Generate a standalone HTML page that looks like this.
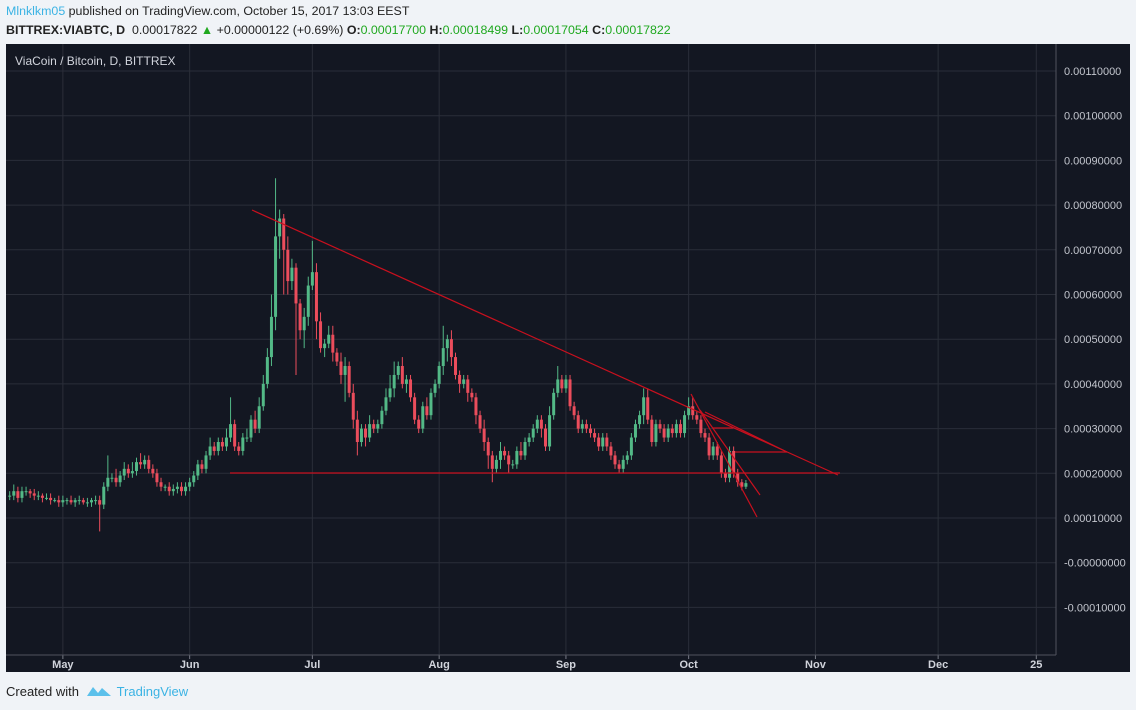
<!DOCTYPE html>
<html><head><meta charset="utf-8"><style>
body{margin:0;width:1136px;height:710px;background:#f0f3f7;font-family:"Liberation Sans",sans-serif;overflow:hidden;position:relative}
.hdr{position:absolute;left:6px;font-size:12.4px;color:#222;white-space:nowrap}
</style></head><body>
<div class="hdr" style="top:4px"><span style="color:#3bb3e4">Mlnklkm05</span> published on TradingView.com, October 15, 2017 13:03 EEST</div>
<div class="hdr" style="top:23px"><b>BITTREX:VIABTC, D</b>&nbsp; 0.00017822 <span style="color:#1fa81f">▲</span> +0.00000122 (+0.69%) <b>O:</b><span style="color:#1fa81f">0.00017700</span> <b>H:</b><span style="color:#1fa81f">0.00018499</span> <b>L:</b><span style="color:#1fa81f">0.00017054</span> <b>C:</b><span style="color:#1fa81f">0.00017822</span></div>
<svg id="chart" width="1136" height="710" style="position:absolute;left:0;top:0" xmlns="http://www.w3.org/2000/svg"></svg>
<div style="position:absolute;left:6px;top:684px;font-size:13px;color:#222">Created with <span style="color:#3bb3e4;margin-left:34px">TradingView</span></div>
<svg style="position:absolute;left:86px;top:684px" width="26" height="14"><path d="M1 12 L7 3 L12 9 L16 4 L25 12 Z" fill="#5bc0eb"/></svg>
<script>
const closes=[15,16,14.5,16,16,15.5,15,15,14.5,14.5,14,14,13.5,
14,14,13.5,14,14,13.5,13.5,14,14,13,17,19,19,18,19.5,21,20,20.5,22.5,22,23,21,20,18,17,17,16,16.5,17,16,17,
18,19.5,22,21,24,26,25,27,26,28,31,26,25,28,28,32,30,35,40,46,55,73,77,70,63,66,58,52,55,62,
65,54,48,49,51,47,45,42,44,38,32,27,30,28,31,30,31,34,37,39,42,44,40,41,37,32,30,35,33,38,40,
44,48,50,46,42,40,41,38,37,33,30,27,24,21,23,25,24,22,22,25,24,27,28,30,32,30,26,33,38,41,39,
41,35,33,30,31,30,29,28,26,28,26,24,22,21,23,24,28,31,33,37,32,27,31,30,28,30,29,31,29,33,
35,33,32,29,28,24,26,24,20,19,25,20,18,17,17.8];
const wickUp=[1,1.5,1,1,1,.5,1,1,.5,1,1,.5,1,
1,.5,1,.5,1,.5,1,.5,1,1,1,5,1,2,1,1.5,1,2,1,2,1,1,1,1,1,.5,1,1,1,1,1,
1,1,1,1,1,2,1,1,1,2,6,1,1,1,2,1,2,2,2,2,5,13,2,1,3,2,1,1,2,2,
7,2,2,1,2,2,1,2,2,1,2,2,1,1,2,1,1,1,2,3,3,1,2,1,1,1,1,1,2,1,1,
1,5,1,2,1,1,1,1,1,1,1,2,1,1,1,2,1,1,1,1,2,1,1,1,1,1,1,2,1,3,1,
1,1,1,1,1,1,1,1,1,1,1,1,1,1,1,1,1,1,1,2,2,1,1,1,1,1,1,1,1,1,
2,2,1,1,1,1,1,1,1,1,1,1,1,.7,.7];
const wickDn=[1,1,1,1,1,1,1,1,1,.5,1,.5,1,
1,1,.5,1,1,.5,1,1,1,6,1,1,1,1,1,1,1,1,1,1,1,1,1,1,1,1,1,1,1,1,1,
1,1,1,1,1,1,1,1,1,1,1,1,1,1,1,1,1,1,1,1,2,3,5,10,3,2,16,2,4,2,
1,4,1,2,1,2,1,2,6,1,2,3,1,2,1,1,1,1,1,1,2,1,1,2,1,1,1,1,1,1,1,
1,2,3,2,1,2,1,2,1,2,1,2,3,3,1,2,1,2,1,1,1,1,1,1,1,2,1,1,1,1,1,
1,1,1,1,1,1,1,1,1,1,1,1,1,1,1,1,1,1,1,2,1,1,1,1,1,1,1,1,1,1,
1,1,1,1,1,1,1,1,1,1,1,1,1,.8,.5];
const priceTicks=[110,100,90,80,70,60,50,40,30,20,10,0,-10];
const monthLabels=["May","Jun","Jul","Aug","Sep","Oct","Nov","Dec","25"];
const monthDays=[13,44,74,105,136,166,197,227,251];
const firstClose=15;
const svg=document.getElementById('chart');const NS='http://www.w3.org/2000/svg';
const y=v=>518-(v-10)*4.47;          // v in 1e-5 BTC
const x=d=>9.7+d*4.09;               // d days since Apr 18
function el(t,a,name){const e=document.createElementNS(NS,t);for(const k in a)e.setAttribute(k,a[k]);


svg.appendChild(e);return e;}
el('rect',{x:6,y:44,width:1124,height:628,fill:'#131722'},'chart-background');
priceTicks.forEach(t=>{el('line',{x1:6,x2:1056,y1:y(t),y2:y(t),stroke:'#2a2e39'},'h-gridline');
const tx=el('text',{x:1064,y:y(t)+4,fill:'#c3c6ce','font-size':11},'price-tick-label');
tx.textContent=(t<=0?'-':'')+(Math.abs(t)/1e5).toFixed(8);});
monthDays.forEach((d,i)=>{el('line',{x1:x(d),x2:x(d),y1:44,y2:655,stroke:'#2a2e39'},'v-gridline');
el('line',{x1:x(d),x2:x(d),y1:655,y2:659,stroke:'#787b86'},'time-tick');
const tx=el('text',{x:x(d),y:668,fill:'#d1d4dc','font-size':11,'font-weight':'bold','text-anchor':'middle'},'time-tick-label');tx.textContent=monthLabels[i];});
el('line',{x1:1056,x2:1056,y1:44,y2:655,stroke:'#50535e'},'price-axis-border');
el('line',{x1:6,x2:1056,y1:655,y2:655,stroke:'#50535e'},'time-axis-border');
const lg=el('text',{x:15,y:65,fill:'#d1d4dc','font-size':12},'chart-legend');lg.textContent='ViaCoin  / Bitcoin, D, BITTREX';
closes.forEach((c,i)=>{const o=i?closes[i-1]:firstClose;const up=c>=o;const col=up?'#53b987':'#eb4d5c';
const hi=Math.max(o,c)+wickUp[i],lo=Math.min(o,c)-wickDn[i];
el('line',{x1:x(i),x2:x(i),y1:y(hi),y2:y(lo),stroke:col,'stroke-width':1},up?'candle-wick-up':'candle-wick-down');
const top=y(Math.max(o,c)),h=Math.max(1,Math.abs(y(o)-y(c)));
el('rect',{x:x(i)-1.5,y:top,width:3,height:h,fill:col},up?'candle-up':'candle-down');});
[[252,210,838,475],[230,473,840,473],[691,394,757,517],[700,410,760,495],[705,412,787,452],[735,452,787,452],[713,428,733,428]].forEach(l=>
el('line',{x1:l[0],y1:l[1],x2:l[2],y2:l[3],stroke:'#c8101e','stroke-width':1.2},'trend-line'));
</script>
</body></html>
